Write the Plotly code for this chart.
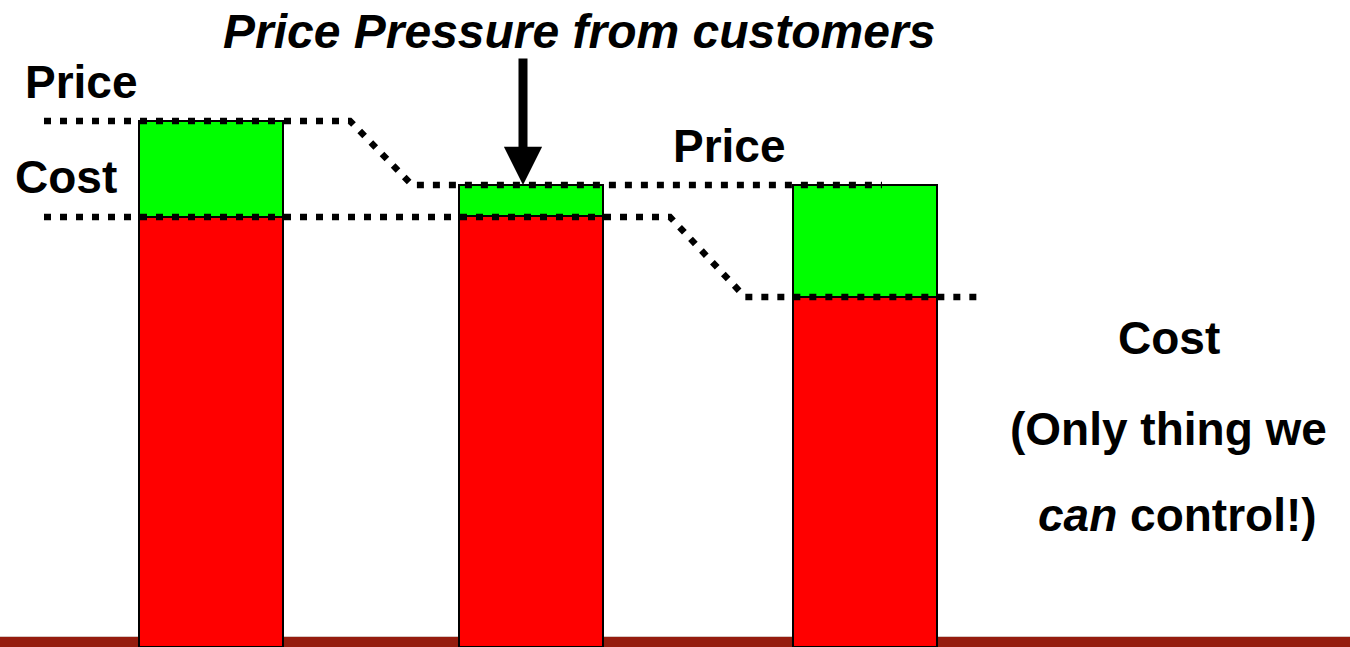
import plotly.graph_objects as go

# bar positions (x) and levels (y, arbitrary units, 0 = bottom edge)
bar_x = [211, 531, 865]
cost = [4.30, 4.31, 3.50]
price = [5.26, 4.62, 4.62]
margin = [p - c for p, c in zip(price, cost)]

# dotted guide lines
price_line_x = [44, 350, 412, 882]
price_line_y = [5.26, 5.26, 4.62, 4.62]
cost_line_x = [44, 670, 745, 980]
cost_line_y = [4.30, 4.30, 3.50, 3.50]

FONT = 'Liberation Sans, Arial, sans-serif'

fig = go.Figure()
fig.add_trace(go.Bar(x=bar_x, y=cost, width=144, marker=dict(color='#FF0000', line=dict(color='black', width=2.5))))
fig.add_trace(go.Bar(x=bar_x, y=margin, width=144, marker=dict(color='#00FF00', line=dict(color='black', width=2.5))))

for xs, ys in [(price_line_x, price_line_y), (cost_line_x, cost_line_y)]:
    fig.add_trace(go.Scatter(x=xs, y=ys, mode='lines',
                             line=dict(color='black', width=6.5, dash='7px,9px')))

# brown footer band
fig.add_shape(type='rect', xref='paper', yref='paper', x0=0, x1=1, y0=0, y1=10 / 647,
              fillcolor='#951C0E', line_width=0, layer='below')
fig.add_shape(type='line', xref='paper', yref='paper', x0=0, x1=1, y0=10.5 / 647, y1=10.5 / 647,
              line=dict(color='#D8C8C4', width=1), layer='below')

def label(text, x, y, size=46):
    fig.add_annotation(x=x, y=y, xref='x', yref='y', text=text, showarrow=False,
                       font=dict(family=FONT, size=size, color='black'),
                       xanchor='center', yanchor='middle')

label('<b><i>Price Pressure from customers</i></b>', 579, 6.16, size=48)
label('<b>Price</b>', 81, 5.65)
label('<b>Cost</b>', 66, 4.70)
label('<b>Price</b>', 729, 5.01)
label('<b>Cost</b>', 1169, 3.09)
label('<b>(Only thing we</b>', 1168, 2.18)
label('<b><i>can</i> control!)</b>', 1177, 1.32)

# arrow: price pressure pushing down on the middle bar
fig.add_annotation(x=bar_x[1] - 8, y=price[1], ax=bar_x[1] - 8, ay=5.90,
                   xref='x', yref='y', axref='x', ayref='y', text='',
                   showarrow=True, arrowhead=2, arrowwidth=9, arrowsize=0.85,
                   arrowcolor='black')

fig.update_layout(
    barmode='stack', showlegend=False, width=1350, height=647,
    margin=dict(l=0, r=0, t=0, b=0),
    plot_bgcolor='white', paper_bgcolor='white',
    xaxis=dict(range=[0, 1350], visible=False, fixedrange=True),
    yaxis=dict(range=[0, 6.47], visible=False, fixedrange=True),
)

fig.write_html("out.html", config={'displayModeBar': False},
               post_script="document.body.style.margin='0';document.body.style.overflow='hidden';")
